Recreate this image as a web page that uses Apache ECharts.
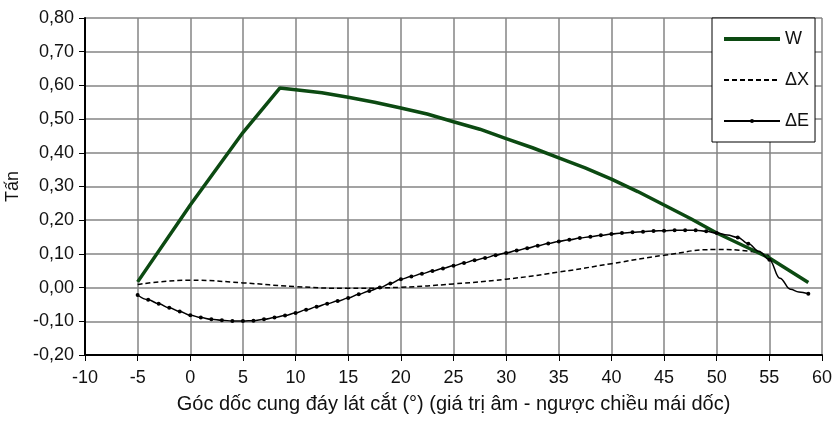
<html>
<meta http-equiv="Content-Type" content="text/html; charset=UTF-8">
<script type="text/javascript" src="https://cdn.jsdelivr.net/npm/echarts@6/dist/echarts.min.js"></script>
<body style="margin:0">
<div id="chart" style="height:423px;width:835px;"></div>
<script type="text/javascript">
// W
var wX = [-5, 0, 5, 8.5, 10, 12.5, 15, 17.5, 20, 22.5, 25, 27.5, 30, 32.5, 35, 37.5, 40, 42.5, 45, 47.5, 50, 52.5, 55, 58.7];
var wY = [0.017, 0.245, 0.46, 0.592, 0.587, 0.578, 0.565, 0.55, 0.533, 0.515, 0.492, 0.47, 0.442, 0.415, 0.385, 0.355, 0.322, 0.285, 0.245, 0.205, 0.162, 0.125, 0.088, 0.015];
// ΔX
var dxX = [-5, 0, 5, 10, 15, 20, 25, 30, 35, 40, 45, 50, 53, 55];
var dxY = [0.009, 0.022, 0.014, 0.003, -0.002, 0.001, 0.011, 0.025, 0.046, 0.071, 0.096, 0.113, 0.108, 0.095];
// ΔE
var deX = [-5, -4, -3, -2, -1, 0, 1, 2, 3, 4, 5, 6, 7, 8, 9, 10, 11, 12, 13, 14, 15, 16, 17, 18, 19, 20,
  21, 22, 23, 24, 25, 26, 27, 28, 29, 30, 31, 32, 33, 34, 35, 36, 37, 38, 39, 40, 41, 42, 43, 44, 45,
  46, 47, 48, 49, 50, 51, 52, 53, 54, 55, 56, 57, 57.8, 58.7];
var deY = [-0.022, -0.036, -0.048, -0.060, -0.071, -0.082, -0.089, -0.094, -0.097, -0.099, -0.099, -0.098, -0.094, -0.089, -0.083, -0.075,
  -0.066, -0.057, -0.048, -0.040, -0.031, -0.020, -0.010, 0.000, 0.012, 0.025,
  0.033, 0.041, 0.049, 0.057, 0.065, 0.073, 0.081, 0.088, 0.096, 0.103, 0.110, 0.117, 0.124, 0.131, 0.137,
  0.142, 0.147, 0.151, 0.155, 0.159, 0.162, 0.164, 0.166, 0.168, 0.169,
  0.170, 0.170, 0.170, 0.167, 0.162, 0.156, 0.149, 0.130, 0.108, 0.083, 0.028, -0.005, -0.013, -0.018];
var deNoMark = [51, 54, 56, 57, 57.8];

function pairs(xs, ys) {
  var out = [];
  for (var i = 0; i < xs.length; i++) out.push([xs[i], ys[i]]);
  return out;
}
var deData = [];
for (var i = 0; i < deX.length; i++) {
  if (deNoMark.indexOf(deX[i]) >= 0) deData.push({value: [deX[i], deY[i]], symbol: 'none'});
  else deData.push([deX[i], deY[i]]);
}

var font = 'Liberation Sans, Arial, sans-serif';
var myChart = echarts.init(document.getElementById('chart'));
myChart.setOption({
  animation: false,
  textStyle: {fontFamily: font},
  grid: {left: 85, right: 13, top: 18, bottom: 68, containLabel: false, outerBoundsMode: 'none'},
  legend: {
    orient: 'vertical',
    left: 712, top: 18,
    padding: [11, 6, 11, 10],
    itemWidth: 56, itemHeight: 5, itemGap: 21,
    backgroundColor: '#fff',
    borderColor: '#000', borderWidth: 1, borderRadius: 0,
    textStyle: {fontSize: 18, color: '#111', fontFamily: font, lineHeight: 20},
    data: [
      {name: 'W', itemStyle: {opacity: 0}, lineStyle: {width: 4}},
      {name: 'ΔX', itemStyle: {opacity: 0}},
      {name: 'ΔE'}
    ]
  },
  xAxis: {
    type: 'value', min: -10, max: 60, interval: 5,
    name: 'Góc dốc cung đáy lát cắt (°) (giá trị âm - ngược chiều mái dốc)',
    nameLocation: 'middle', nameGap: 39,
    nameTextStyle: {fontSize: 20, color: '#111'},
    axisLine: {onZero: false, lineStyle: {color: '#000', width: 2}},
    axisTick: {show: true, length: 6, lineStyle: {color: '#000'}},
    axisLabel: {fontSize: 18, color: '#111', margin: 14},
    splitLine: {show: true, lineStyle: {color: '#858585', width: 1.5}}
  },
  yAxis: {
    type: 'value', min: -0.2, max: 0.8, interval: 0.1,
    name: 'Tấn', nameLocation: 'middle', nameGap: 60, nameRotate: 90,
    nameTextStyle: {fontSize: 18, color: '#111'},
    axisLine: {show: true, onZero: false, lineStyle: {color: '#000', width: 2}},
    axisTick: {show: true, length: 6, lineStyle: {color: '#000'}},
    axisLabel: {
      fontSize: 18, color: '#111', margin: 11,
      formatter: function (v) { return v.toFixed(2).replace('.', ','); }
    },
    splitLine: {show: true, lineStyle: {color: '#858585', width: 1.5}}
  },
  series: [
    {
      name: 'W', type: 'line', data: pairs(wX, wY),
      smooth: false, symbol: 'none', z: 3,
      lineStyle: {color: '#0c4a12', width: 3.5},
      itemStyle: {color: '#0c4a12'}
    },
    {
      name: 'ΔX', type: 'line', data: pairs(dxX, dxY),
      smooth: true, symbol: 'none', z: 2,
      lineStyle: {color: '#000', width: 1.5, type: [5, 3]},
      itemStyle: {color: '#000'}
    },
    {
      name: 'ΔE', type: 'line', data: deData,
      smooth: 0.4, smoothMonotone: 'x',
      symbol: 'circle', symbolSize: 4, showSymbol: true, z: 4,
      lineStyle: {color: '#000', width: 1.5},
      itemStyle: {color: '#000'}
    }
  ]
});
</script>
</body>
</html>
